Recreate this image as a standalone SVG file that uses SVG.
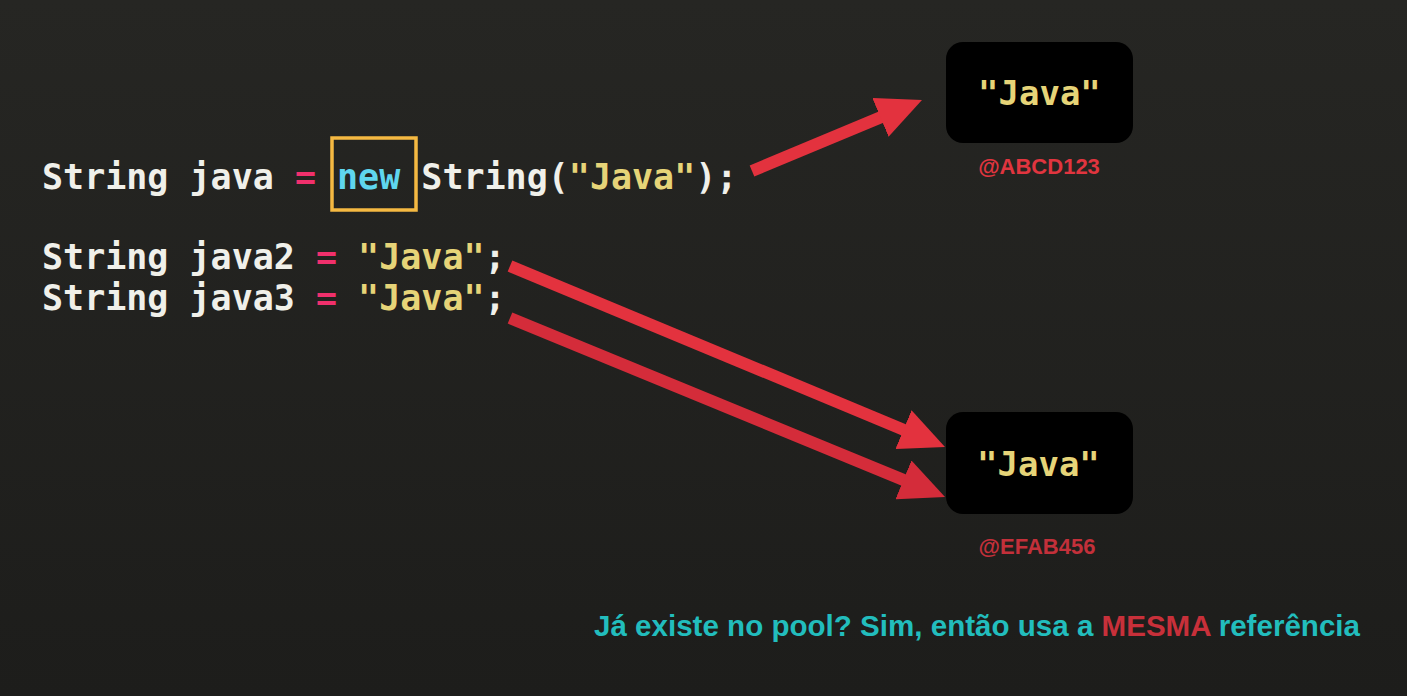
<svg xmlns="http://www.w3.org/2000/svg" width="1407" height="696" viewBox="0 0 1407 696">
  <defs>
    <linearGradient id="bg" x1="0" y1="0" x2="0" y2="1">
      <stop offset="0" stop-color="#262623"/>
      <stop offset="1" stop-color="#1d1d1b"/>
    </linearGradient>
    <marker id="head" markerUnits="userSpaceOnUse" viewBox="0 0 45 42" markerWidth="45" markerHeight="42" refX="15" refY="21" orient="auto">
      <path d="M0,0 L45,21 L0,42 z" fill="#e3323e"/>
    </marker>
    <marker id="head2" markerUnits="userSpaceOnUse" viewBox="0 0 45 42" markerWidth="45" markerHeight="42" refX="15" refY="21" orient="auto">
      <path d="M0,0 L45,21 L0,42 z" fill="#d42c3a"/>
    </marker>
  </defs>
  <style>
    .code { font-family: "DejaVu Sans Mono", "Liberation Mono", monospace; font-weight: bold; font-size: 35px; fill: #f0f0ea; }
    .op { fill: #f0306c; }
    .kw { fill: #5fd6ee; }
    .str { fill: #e6d478; }
    .box { fill: #000000; }
    .boxtxt { font-family: "DejaVu Sans Mono", "Liberation Mono", monospace; font-weight: bold; font-size: 34px; fill: #e6d478; }
    .addr { font-family: "Liberation Sans", Arial, sans-serif; font-weight: bold; font-size: 22px; text-anchor: middle; }
    .arrow { stroke-width: 12; fill: none; }
    .note { font-family: "Liberation Sans", Arial, sans-serif; font-weight: bold; font-size: 29px; fill: #22bdbd; }
  </style>
  <rect width="1407" height="696" fill="url(#bg)"/>

  <g id="code">
    <text class="code" x="42" y="189">String java <tspan class="op">=</tspan> <tspan class="kw">new</tspan> String(<tspan class="str">"Java"</tspan>);</text>
    <rect x="332" y="138" width="84" height="72" fill="none" stroke="#f5b942" stroke-width="3.5"/>
    <text class="code" x="42" y="269">String java2 <tspan class="op">=</tspan> <tspan class="str">"Java"</tspan>;</text>
    <text class="code" x="42" y="310">String java3 <tspan class="op">=</tspan> <tspan class="str">"Java"</tspan>;</text>
  </g>

  <g id="node1">
    <rect class="box" x="946" y="42" width="187" height="101" rx="17"/>
    <text class="boxtxt" x="978" y="105">"Java"</text>
    <text class="addr" x="1039" y="174" fill="#e0353f">@ABCD123</text>
  </g>

  <g id="node2">
    <rect class="box" x="946" y="412" width="187" height="102" rx="17"/>
    <text class="boxtxt" x="977" y="476">"Java"</text>
    <text class="addr" x="1037" y="554" fill="#c3303a">@EFAB456</text>
  </g>

  <g id="connectors">
    <line class="arrow" x1="752" y1="171" x2="894.3" y2="111.6" stroke="#e3323e" marker-end="url(#head)"/>
    <line class="arrow" x1="510" y1="266" x2="917.3" y2="435.5" stroke="#e3323e" marker-end="url(#head)"/>
    <line class="arrow" x1="510" y1="318" x2="917.3" y2="485.6" stroke="#d42c3a" marker-end="url(#head2)"/>
  </g>

  <g id="note">
    <text class="note" x="594" y="636" textLength="766" lengthAdjust="spacingAndGlyphs">Já existe no pool? Sim, então usa a <tspan fill="#c8303a">MESMA</tspan> referência</text>
  </g>
</svg>
